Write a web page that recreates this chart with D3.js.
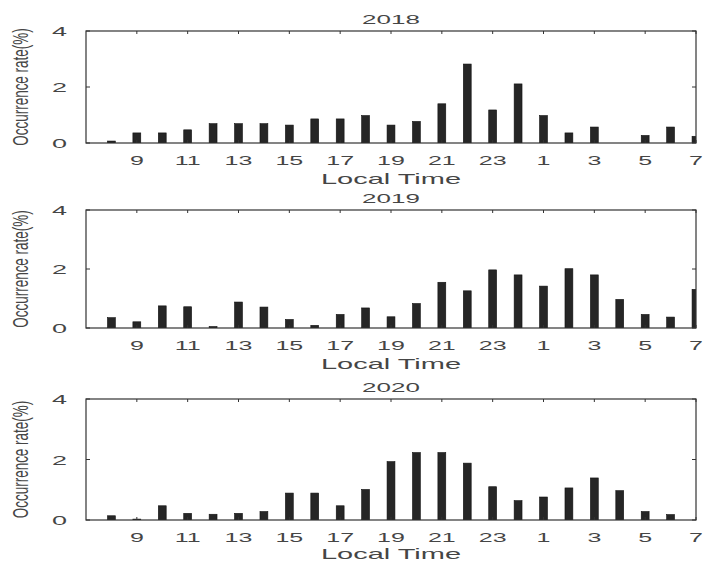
<!DOCTYPE html>
<html>
<head>
<meta charset="utf-8"/>
<script src="https://cdn.jsdelivr.net/npm/d3@7"></script>
<style>
  body { margin: 0; background: #fff; }
  text { font-family: "Liberation Sans", Arial, sans-serif; fill: #454545; }
</style>
</head>
<body>
<div id="chart"></div>
<script>
// local hours, starting at 08 and wrapping past midnight
var hours = [8, 9, 10, 11, 12, 13, 14, 15, 16, 17, 18, 19, 20, 21, 22, 23, 0, 1, 2, 3, 4, 5, 6, 7];
var xTickLabels = ["9", "11", "13", "15", "17", "19", "21", "23", "1", "3", "5", "7"];
var yTicks = [0, 2, 4];
var years = ["2018", "2019", "2020"];

var rate2018 = [0.07, 0.36, 0.36, 0.47, 0.69, 0.69, 0.69, 0.64, 0.86, 0.86, 0.98, 0.64,
                0.77, 1.40, 2.82, 1.18, 2.11, 0.98, 0.36, 0.57, 0, 0.27, 0.57, 0.24];
var rate2019 = [0.35, 0.21, 0.75, 0.72, 0.05, 0.88, 0.71, 0.29, 0.09, 0.46, 0.68, 0.38,
                0.83, 1.55, 1.26, 1.97, 1.80, 1.42, 2.01, 1.80, 0.97, 0.46, 0.37, 1.31];
var rate2020 = [0.14, 0.03, 0.47, 0.22, 0.19, 0.22, 0.28, 0.89, 0.89, 0.47, 1.01, 1.93,
                2.23, 2.23, 1.88, 1.10, 0.64, 0.76, 1.06, 1.39, 0.97, 0.28, 0.18, 0];
var series = [rate2018, rate2019, rate2020];

var W = 705, H = 562;
var left = 86, right = 696;
var panels = [{top: 31, bottom: 143}, {top: 210, bottom: 328}, {top: 399, bottom: 520}];
var sx = 2.0; // the source figure is stretched horizontally

var svg = d3.select("#chart").append("svg")
    .attr("width", W).attr("height", H);

// index -1 .. 23 -> left .. right
var x = d3.scaleLinear().domain([-1, 23]).range([left, right]);
var barW = (x(1) - x(0)) * 0.31;

panels.forEach(function(p, k) {
    var y = d3.scaleLinear().domain([0, 4]).range([p.bottom, p.top]);
    var g = svg.append("g");

    g.append("clipPath").attr("id", "clip" + k)
        .append("rect")
        .attr("x", left).attr("y", p.top)
        .attr("width", right - left).attr("height", p.bottom - p.top);

    // bars
    g.append("g").attr("clip-path", "url(#clip" + k + ")")
        .selectAll("rect")
        .data(series[k])
        .enter()
        .append("rect")
        .attr("x", function(d, i) { return x(i) - barW / 2; })
        .attr("y", function(d) { return y(d); })
        .attr("width", barW)
        .attr("height", function(d) { return p.bottom - y(d); })
        .attr("fill", "#262626")
        .attr("stroke", "#111")
        .attr("stroke-width", 0.6);

    // box
    g.append("rect")
        .attr("x", left).attr("y", p.top)
        .attr("width", right - left).attr("height", p.bottom - p.top)
        .attr("fill", "none").attr("stroke", "#333").attr("stroke-width", 1.2);

    // x ticks (odd hours), inward top and bottom
    var tickIdx = [];
    hours.forEach(function(h, i) { if (h % 2 === 1) tickIdx.push(i); });
    tickIdx.forEach(function(i, j) {
        g.append("line").attr("x1", x(i)).attr("x2", x(i))
            .attr("y1", p.top).attr("y2", p.top + 3)
            .attr("stroke", "#333");
        g.append("line").attr("x1", x(i)).attr("x2", x(i))
            .attr("y1", p.bottom).attr("y2", p.bottom - 3)
            .attr("stroke", "#333");
        g.append("text")
            .attr("transform", "translate(" + x(i) + "," + (p.bottom + 22) + ") scale(" + sx + ",1)")
            .attr("text-anchor", "middle")
            .style("font-size", "12.5px")
            .text(xTickLabels[j]);
    });

    // y ticks
    yTicks.forEach(function(t) {
        g.append("line").attr("x1", left).attr("x2", left + 4)
            .attr("y1", y(t)).attr("y2", y(t)).attr("stroke", "#333");
        g.append("line").attr("x1", right).attr("x2", right - 4)
            .attr("y1", y(t)).attr("y2", y(t)).attr("stroke", "#333");
        g.append("text")
            .attr("transform", "translate(" + (left - 19) + "," + (y(t) + 5) + ") scale(" + sx + ",1)")
            .attr("text-anchor", "end")
            .style("font-size", "13.5px")
            .text(t);
    });

    // title
    g.append("text")
        .attr("transform", "translate(" + ((left + right) / 2) + "," + (p.top - 7) + ") scale(" + sx + ",1)")
        .attr("text-anchor", "middle")
        .style("font-size", "13px")
        .text(years[k]);

    // x label
    g.append("text")
        .attr("transform", "translate(" + ((left + right) / 2) + "," + Math.min(p.bottom + 41, H - 3) + ") scale(" + sx + ",1)")
        .attr("text-anchor", "middle")
        .style("font-size", "14.5px")
        .text("Local Time");

    // y label
    g.append("text")
        .attr("transform", "translate(28," + ((p.top + p.bottom) / 2) + ") scale(" + (sx * 0.85) + ",1) rotate(-90)")
        .attr("text-anchor", "middle")
        .style("font-size", "13.5px")
        .text("Occurrence rate(%)");
});
</script>
</body>
</html>
